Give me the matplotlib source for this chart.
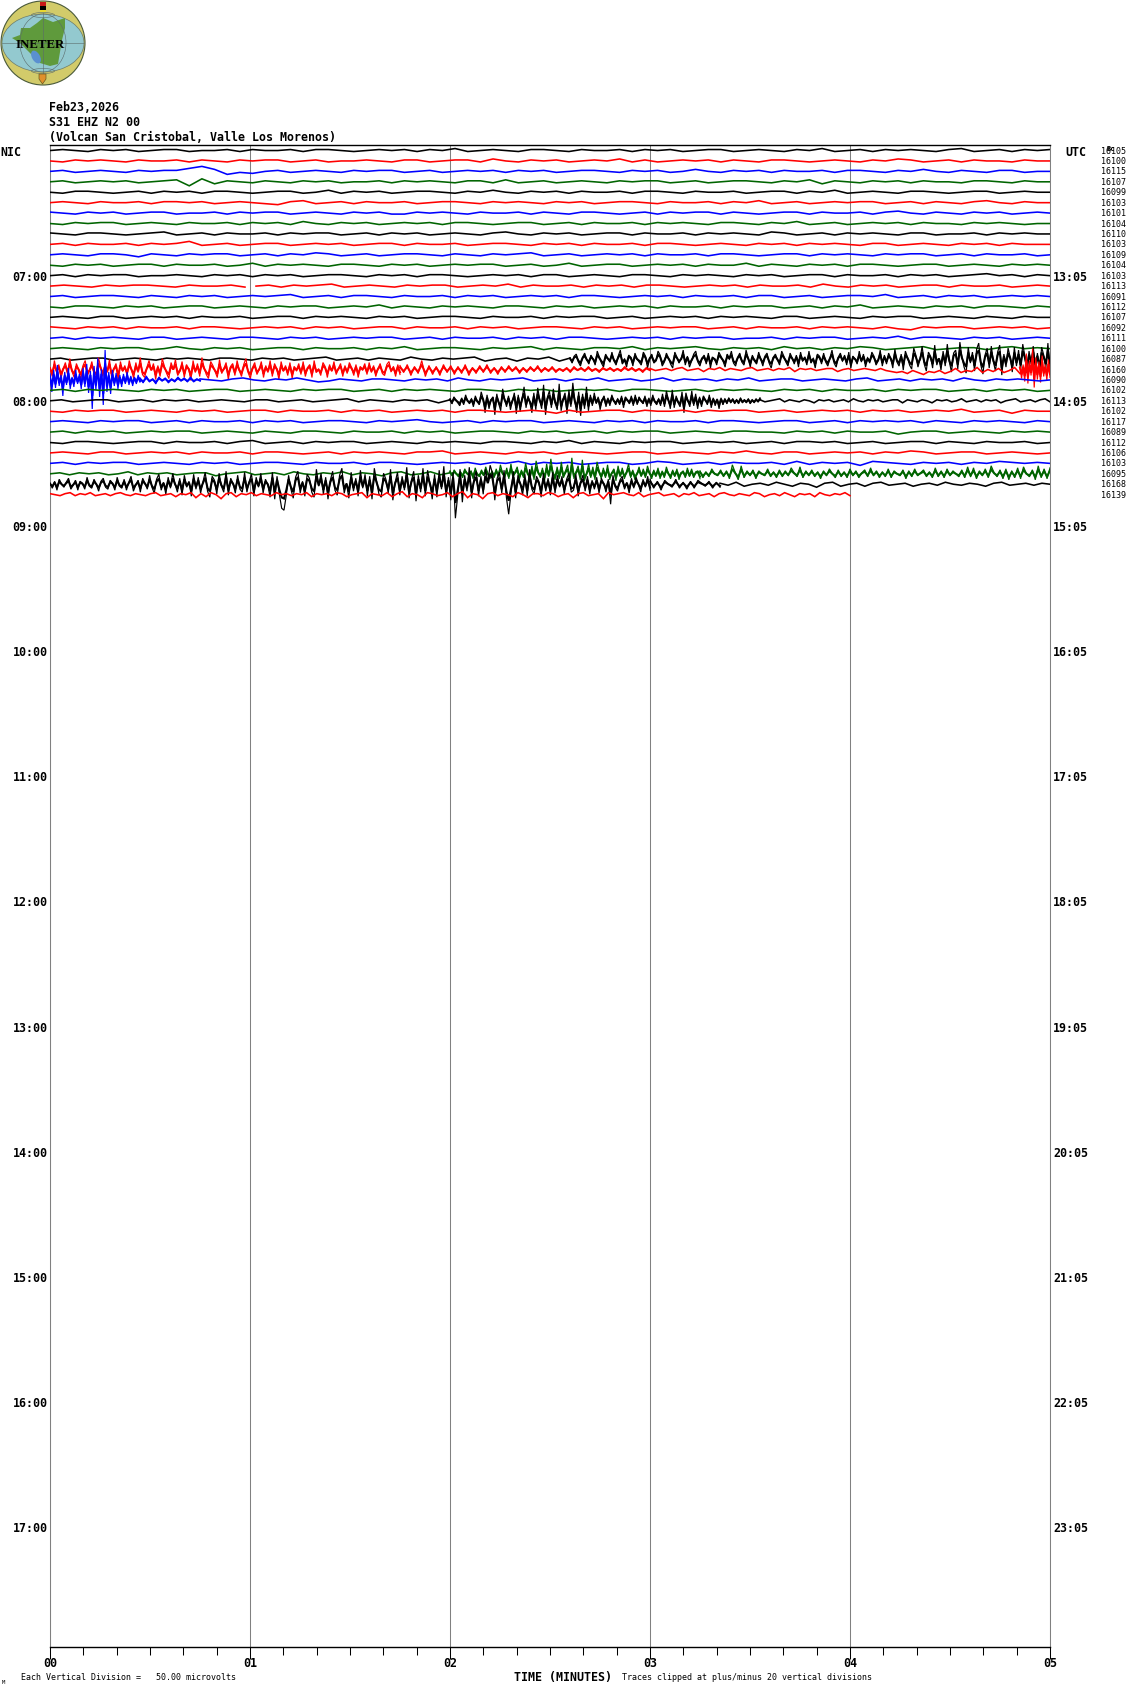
import numpy as np
import matplotlib
matplotlib.use('Agg')
import matplotlib.pyplot as plt
from matplotlib.patches import Circle, Ellipse, Polygon, Rectangle

# right hand column, one per trace line
line_counts = [16105, 16100, 16115, 16107, 16099, 16103, 16101, 16104, 16110, 16103, 16109, 16104,
               16103, 16113, 16091, 16112, 16107, 16092, 16111, 16100, 16087, 16160, 16090, 16102,
               16113, 16102, 16117, 16089, 16112, 16106, 16103, 16095, 16168, 16139]
trace_colors = ['black', '#ff0000', '#0000ff', '#006400']

nic_hours = ['07:00', '08:00', '09:00', '10:00', '11:00', '12:00', '13:00', '14:00', '15:00', '16:00', '17:00']
utc_hours = ['13:05', '14:05', '15:05', '16:05', '17:05', '18:05', '19:05', '20:05', '21:05', '22:05', '23:05']
hour_rows = [12, 24, 36, 48, 60, 72, 84, 96, 108, 120, 132]
minute_labels = ['00', '01', '02', '03', '04', '05']

# trace offsets, in pixels, positive is up
trace_00 = [0, 1, 0, -1, 1, 0, 1, -1, 0, 1, 1, -1, 0, 0, 1, -1, 1, 0, 0, 1, -1, 1, 1, 0, -1, 0, 1, 0, 1, -1, 1, 0, 2, -1, 0, 1, 0, -1, 1, 1,
            0, -1, 1, 0, 0, 1, -1, 1, 0, 1, -1, 0, 1, 1, -1, 0, 1, 0, -1, 1, 0, 2, -1, 0, 1, -1, 1, 0, 1, 0, -1, 1, 2, -1, 0, 1, -1, 1, 0, 1]
trace_01 = [0, -1, 1, 0, 1, 0, -1, 1, 0, 0, 1, -1, 1, 0, -1, 1, 0, 1, 1, -1, 0, 1, -1, 0, 0, 1, 0, -1, 1, 1, -1, 0, 1, 1, -1, 2, 0, -1, 1, 0,
            1, -1, 0, 1, 0, 2, -1, 1, -1, 0, 1, 0, 1, -1, 1, 0, -1, 1, 1, 0, -1, 0, 1, 0, -1, 1, 0, 2, 1, -1, 0, 1, -1, 1, 0, 0, -1, 1, 0, 0]
trace_02 = [0, 1, -1, 0, 1, 0, -1, 1, 0, 1, 1, 3, 5, 2, -3, -1, -2, 0, 1, -1, 0, 1, 0, -1, 1, 0, 1, 1, -1, 0, 1, -1, 0, 1, 0, 1, -1, 1, 0, 1,
            -1, 0, 1, 1, 0, -1, 1, 0, 1, -1, 0, 2, 0, -1, 1, 0, 1, -1, 1, 0, 0, 1, -1, 1, 1, 0, -1, 1, 0, 2, 0, -1, 1, 0, -1, 1, 1, -1, 0, 0]
trace_03 = [0, 1, -1, 0, 1, 0, 1, -1, 0, 1, 2, -4, 3, -2, 1, 0, -1, 1, 0, -1, 1, 0, 1, -1, 0, 0, 1, -1, 1, 0, 1, 0, -1, 1, 1, -1, 2, -1, 0, 1,
            -1, 0, 1, 0, -1, 1, 0, 1, 1, -1, 0, 1, -1, 0, 1, 1, 0, -1, 1, 0, 2, -2, 1, 0, -1, 1, 0, 1, -1, 1, 0, 0, -1, 1, 1, 0, -1, 1, 0, 0]
trace_04 = [0, -1, 1, 1, 0, -1, 0, 1, -1, 1, 0, 1, -1, 1, 1, 0, -1, 0, 1, 1, -1, 0, 2, -1, 1, 0, 1, -1, 0, 1, 1, 0, -1, 1, 0, 2, 0, -1, 1, 0,
            1, -1, 1, 0, 0, 1, -1, 1, 1, 0, -1, 1, 0, 0, 1, -1, 0, 1, 1, -1, 1, 0, 2, -1, 0, 1, 0, -1, 1, 1, 0, -1, 0, 1, 1, -1, 0, 1, 0, 0]
trace_05 = [0, 1, 0, -1, 1, 0, 0, 1, -1, 1, 1, 0, 1, -1, 0, 1, 0, -1, -2, 1, 2, -1, 0, 1, -1, 1, 0, 0, 1, -1, 0, 1, 1, 0, -1, 1, 0, 1, 0, -1,
            1, 0, 1, -1, 0, 1, 1, 0, -1, 1, 0, 0, 1, -1, 1, 0, 2, -1, 0, 1, -1, 0, 1, 0, 1, 1, -1, 0, 1, -1, 1, 0, -1, 1, 2, 0, -1, 1, 0, 0]
trace_06 = [1, 0, -1, 1, 0, 1, -1, 0, 1, 1, -1, 0, 0, 1, -1, 1, 0, 1, 1, -1, 0, 1, 0, -1, 1, 0, 1, -1, -1, 1, 0, 1, 0, -1, 1, 0, 0, 1, -1, 1,
            0, -1, 1, 1, 0, -1, 0, 1, -1, 1, 0, 1, 1, -1, 1, 0, -1, 0, 1, 1, -1, 1, 0, 0, 1, -1, 1, 2, 0, -1, 1, 0, -1, 1, 0, 1, -1, 0, 1, 0]
trace_07 = [0, -1, 1, 0, 1, 1, -1, 0, 1, 0, -1, 1, 0, 0, 1, -1, 1, 0, 1, -1, 2, 0, -1, 1, 0, 1, -1, 0, 1, 0, 1, -1, 1, 1, 0, -1, 0, 1, 1, -1,
            0, 1, -1, 1, 0, 0, 1, -1, 1, 0, 1, 0, -1, 1, 1, 0, -1, 1, 0, 2, -1, 0, 1, -1, 0, 1, 0, 1, -1, 1, 0, 0, -1, 1, 0, 1, 0, -1, 0, 0]
trace_08 = [1, 0, -1, 1, 1, 0, -1, 0, 1, 2, -1, 0, 1, -1, 1, 0, 0, 1, -1, 1, 0, 1, 1, -1, 0, 1, -1, 1, 0, 1, -1, 0, 1, 0, -1, 1, 2, 0, -1, 1,
            0, 1, -1, 0, 1, 1, -1, 1, 0, 0, 1, -1, 1, 0, 1, 0, -1, 2, 1, -1, 0, 1, -1, 1, 0, 1, 0, -1, 1, 1, -1, 0, 0, 1, -1, 1, 0, 1, 0, 0]
trace_09 = [0, 1, -1, 1, 0, 0, 1, -1, 1, 0, 1, 3, -1, 0, 1, -1, 0, 1, 1, -1, 0, 1, 0, 1, -1, 0, 1, 1, -1, 1, 0, 0, 1, -1, 0, 1, 1, 0, -1, 1,
            0, 1, -1, 1, 0, 0, 1, -1, 1, 1, 0, -1, 0, 1, 0, -1, 1, 0, 1, -1, 1, 0, 1, 0, -1, 1, 1, -1, 0, 1, 0, -1, 1, 0, 1, -1, 1, 0, 0, 0]
trace_10 = [0, 1, 0, -1, 1, 1, 0, -2, 1, 0, -1, 1, 0, 1, 1, -1, 0, 1, -1, 1, 0, 2, 1, -1, 0, 1, -1, 0, 1, 1, 0, -1, 1, 0, -1, 1, 0, 1, 2, -1,
            0, 1, -1, 0, 1, 0, 1, -1, 1, 0, 0, 1, -1, 1, 1, 0, -1, 0, 1, 1, -1, 1, 0, 1, 0, -1, 1, 0, 1, 1, -1, 0, 1, -1, 1, 0, 0, 1, -1, 0]
trace_11 = [0, -1, 1, 0, 1, -1, 0, 1, 1, -1, 1, 0, 0, 1, -1, 0, 2, -1, 1, 0, 1, 0, -1, 1, 1, 0, -1, 1, 0, 1, -1, 0, 1, 0, 1, 1, -1, 0, 1, -1,
            0, 2, -1, 0, 1, 1, -1, 0, 1, 0, 1, -1, 1, 0, 0, 2, -1, 1, 0, -1, 1, 0, 1, -1, 1, 1, 0, -1, 0, 1, 1, -1, 0, 1, 0, -1, 1, 0, 1, 0]
trace_12 = [0, 1, -1, 1, 0, 1, 1, -1, 0, 0, 1, 0, -1, 1, 0, 1, -1, 1, 0, 1, -1, 0, 1, 1, 0, -1, 1, 0, 1, -1, 1, 1, 0, -1, 0, 1, 0, 1, -1, 1,
            1, -1, 0, 1, 0, -1, 1, 1, 0, -1, 1, 0, 1, 0, -1, 1, 0, 1, -1, 0, 1, 1, -1, 1, 0, 0, 1, -1, 1, 0, 1, -1, 0, 1, 2, 0, 1, -1, 1, 0]
trace_13a = [0, 1, 0, -1, 1, 0, 1, 1, 0, -1, 1, 0, 0, 1, -1]
trace_13b = [0, 1, -1, 1, 0, 1, 2, -1, 0, 1, 0, -1, 1, 0, 1, 1, -1, 0, 1, 0, 2, -1, 1, 0, 0, 1, -1, 1, 0, 1, -1, 1, 1, 0, -1, 0, 1, 0, 1, -1,
             1, 0, 0, 1, -1, 2, 0, -1, 1, 0, 1, -1, 0, 1, 1, -1, 1, 0, 0, 1, -1, 0, 1, 0]
trace_14 = [0, 1, -1, 0, 1, 1, 0, -1, 1, 0, -1, 1, 0, 1, -1, 0, 1, 0, 1, 2, -1, 0, 1, -1, 1, 1, 0, -1, 1, 0, 0, 1, -1, 1, 0, 1, -1, 0, 1, 0,
            1, -1, 1, 1, 0, -1, 0, 1, 0, 1, -1, 1, 0, 0, 1, -1, 1, 1, -1, 0, 1, -1, 0, 1, 1, 0, 2, -1, 0, 1, -1, 1, 0, 1, -1, 0, 1, 0, 1, 0]
trace_15 = [0, -1, 1, 1, 0, -1, 1, 0, 1, -1, 0, 1, 1, -1, 0, 1, 0, -1, 1, 0, 1, 1, -1, 0, 1, 0, 2, -1, 1, 0, -1, 1, 0, 1, 0, -1, 1, 1, 0, -1,
            1, 0, 1, -1, 0, 1, 0, 1, -1, 1, 0, 0, 1, -1, 1, 0, 1, 1, -1, 0, 1, -1, 1, 0, 2, -1, 0, 1, 0, -1, 1, 0, 1, -1, 1, 1, 0, -1, 1, 0]
trace_16 = [0, 1, 0, -1, 1, 1, -1, 0, 1, 0, 1, -1, 1, 0, 0, 1, -1, 0, 1, 1, -1, 1, 0, 1, 0, -1, 1, 0, 1, -1, 0, 1, 1, 0, -1, 1, 0, 0, 1, -1,
            1, 0, 1, 1, -1, 0, 1, -1, 0, 1, 0, 1, -1, 1, 0, 1, 0, -1, 1, 1, -1, 0, 1, 0, -1, 1, 0, 1, 1, -1, 0, 1, 0, -1, 1, 0, -1, 1, 0, 0]
trace_17 = [1, 0, -1, 1, 0, 1, -1, 1, 0, 0, 1, -1, 1, 1, 0, -1, 0, 1, 0, 1, -1, 1, 0, 1, -1, 0, 1, 1, -1, 1, 0, 0, 1, -1, 1, 0, 1, -1, 0, 1,
            1, 0, -1, 1, 0, 1, -1, 0, 1, 0, 1, 1, -1, 0, 1, -1, 1, 0, 0, 1, -1, 1, 0, 1, 0, -1, 1, -1, -2, 1, 0, 1, 1, -1, 0, 1, 0, 1, -1, 0]
trace_18 = [0, 1, -1, 1, 0, 1, 0, -1, 1, 1, -1, 0, 1, 0, -1, 1, 1, 0, -1, 1, 0, 1, -1, 0, 1, 0, 1, 1, -1, 0, 1, -1, 1, 0, 0, 1, -1, 1, 0, 1,
            -1, 1, 1, 0, -1, 0, 1, 0, 1, -1, 1, 0, 1, 1, -1, 0, 0, 1, -1, 1, 0, 1, 1, -1, 0, 1, 0, 2, -1, 1, 1, 0, -1, 1, 0, 1, -1, 0, 1, 0]
trace_19 = [0, 1, 0, -1, 1, 0, 1, 1, -1, 0, 2, 0, -1, 1, 0, 1, -1, 0, 1, 1, -1, 1, 0, 0, 1, -1, 1, 0, 2, -1, 0, 1, 1, 0, -1, 1, 0, 1, 2, -1,
            1, 0, -1, 1, 1, 0, 2, -1, 1, 0, 1, 2, 0, -1, 1, 0, 1, -1, 2, 0, 1, -1, 1, 0, 2, 1, -1, 0, 1, 2, -1, 0, 1, 1, -1, 1, 2, 0, 1, 0]
trace_20_calm = [0, 1, -1, 0, 1, 1, -1, 0, 1, 0, -1, 1, 0, 1, 0, -1, 1, 1, 0, -1, 1, 0, 1, -1, 0, 1, 2, -1, 0, 1, -1, 1, 0, -1, 2, 0, -1, 1, 0, 1,
                 2, -2, 0, 1, -2, 1, 0, 2, -2, 1]
trace_20_loud = [1, -4, 3, 5, -3, -7, 2, 6, -1, -5, 4, 0, -6, 8, 2, -4, -8, 5, 1, -3, 7, -2, -6, 3, 9, -5, -1, -8, 4, 2, -7, 6, 0, -3, -6, 7, 3, -9, 1, 5,
                 -4, -2, 8, 4, -7, -3, 6, 1, -5, -9, 7, 2, -4, 0, 9, -6, 3, -8, -2, 5, 8, -3, -7, 1, 4, -5, 6, -9, 2, 0, -6, 7, 3, -2, -8, 5, 1, 8, -4, -7,
                 2, 6, -3, -6, 9, 1, -8, 4, -2, -5, 7, 0, -7, 3, 6, -4, -9, 2, 5, -1, -6, 8, 3, -3, -7, 6, 1, -5, 4, -8, 7, -2, 2, -6, 8, -4, 0, -9, 5, 3,
                 -5, 6, -3, -7, 1, 9, -4, -8, 2, 6, -2, 4, -6, 7, -9, 3, 0, -5, 8, -3, 5, -8, 1, -4, 7, 3, -6, -2, 9, -7, 4, -5, 6, 1, -9, 10, -3, -7, 5, -11,
                 8, 2, -6, -10, 11, 4, -8, 0, 13, -5, -12, 7, 3, -9, 14, -6, 1, -11, 8, -7, 15, -3, -13, 6, 9, -10, 17, 2, -8, -14, 12, -4, 7, -12, 10, 16, -6, -15, 4, 11,
                 -9, 13, -3, -12, 7, 14, -16, 5, -8, 11, 2, -13, 12, -7, 9, -11, 15, 3, -14, 8, -5, 13, -10, 6, -15, 12, 4, -9, 16, -12]
trace_21_loud = [2, -7, 9, -3, 5, -9, 1, 7, -5, 11, -2, -8, 6, 0, -10, 4, 9, -6, -1, 8, -4, -9, 12, 3, -7, 5, -3, 10, -8, 1, 6, -11, 8, -2, 4, -6, 9, 0, -9, 7,
                 -3, 12, -5, -8, 2, 9, -1, 6, -10, 4, -7, 11, 3, -4, -9, 7, 0, 10, -6, -2, 8, -8, 5, 1, -11, 9, -3, 6, -7, 12, 2, -5, -9, 8, 4, -2, -8, 10, -4, 1,
                 7, -10, 3, 6, -6, 9, -1, -7, 5, 11, -3, -9, 2, 7, -5, 0, 8, -8, 4, -3, 9, -7, 6, 1, -10, 8, -2, 4, -6, 7, -9, 3, -1, 6, -5, 8, -7, 2, 5, -8,
                 9, -3, 0, -6, 7, 3, -8, 5, -2, 8, -5, 1, 6, -7, 4, -4, 7, 2, -6, 5, -8, 3, 0, 6, -5, 7, -3, 4, -7, 1, 6, -4, -6, 5, 8, -2, 3, -7, 5, -5]
trace_21_mid = [4, -3, 5, -6, 3, -4, 9, -7, 4, -5, 3, -6, 5, -3, 4, -5, 3, -4, 5, -6, 2, -4, 4, -3, 5, -4, 2, -5, 3, -3, 4, -2, 3, -4, 2, -3, 3, -2, 4, -3,
                2, -2, 3, -3, 1, -2, 2, -3, 3, -1, 2, -2, 3, -2, 1, -3, 2, -1, 2, -2, 1, -2, 3, -1, 2, -2, 1, -3, 2, -1]
trace_21_calm = [1, -1, 0, 1, -1, 1, 2, -1, 0, 1, -2, 1, 0, 2, -1, 1, 0, -1, 1, 2, -1, 0, 1, -1, 1, 0, 2, -2, 1, 0, 1, -1, 0, 1, 1, -2, 0, 1, -1, 0,
                 1, 0, -1, 1, -1, -2, -3, -2, -4, -1, -3, -5, -2, -3, -1, -4, -2, 1, -3, -1, -2, 2, -3, 0, -2, 1, -3, -1, 2, -4]
trace_21_burst = [3, -9, 5, -12, 16, -14, 9, -6, 21, -18, 12, -10, 8, -13, 14, -7, 5, -11, 10, -8]
trace_22_loud = [6, -12, 10, -8, 15, -6, 5, -16, 8, -5, 12, -9, 3, -7, 10, -4, 6, -9, 12, -7, 16, -13, 9, -29, 14, -10, 22, -17, 11, -25, 30, -12, 8, -14, 10, -6, 7, -9, 5, -7,
                 6, -4, 8, -5, 4, -6, 3, -4, 5, -2]
trace_22_mid = [2, -3, 4, -2, 1, -4, 3, -1, 2, -3, 1, -2, 3, -1, 2, -2, 3, -2, 1, -1]
trace_22_calm = [1, 0, -1, 1, 2, 0, -1, 1, 0, 2, 0, -2, -1, 1, 0, -1, 1, 1, 0, -1, 1, 0, 1, -1, 2, 0, -1, 1, 0, 1, 2, -1, 0, 1, -1, 1, 0, 2, -1, 0,
                 1, -1, 0, 2, -1, 1, 0, 1, -1, 1, 0, 2, -1, 0, 1, 1, -1, 0, 1, 0, -1, 1, 2, -1, 0, 1, -1, 1, 0, 1, -1, 2, 0, -1, 1, 0, 1, 0, -1, 0]
trace_23 = [0, 1, -1, 1, 0, 1, 0, -1, 1, 0, 1, -1, 0, 1, 1, -1, 0, 1, 0, -1, 1, 0, 1, 1, -1, 0, 1, -1, 1, 0, 1, 0, -1, 1, 1, 0, -1, 1, 0, 1,
            -1, 0, 1, 0, 1, -1, 1, 1, 0, -1, 0, 1, -1, 1, 0, 1, 0, -1, 1, 0, 1, -1, 1, 0, 0, 1, -1, 1, 0, 1, 1, -1, 0, 1, -1, 1, 0, 1, -1, 0]
trace_24_left = [0, 1, -1, 0, 1, 1, -1, 0, 1, -1, 1, 0, 1, -1, 0, 1, 0, -1, 1, 1, -1, 0, 1, -1, 0, 1, 2, -1, 1, 0, -1, 1, 0, 1, -2, 1]
trace_24_loud = [2, -3, 4, 1, -2, -5, 3, -4, 6, 0, -3, 2, -6, 5, -1, -4, 9, 2, -12, 6, -8, 1, 4, -14, 7, -3, -10, 12, 2, -6, 5, -9, 0, 8, -13, 6, -11, 3, 14, -7,
                 5, -2, -12, 8, -9, 13, 1, -8, 16, -14, 4, 10, -7, 12, -3, -9, 17, -10, 2, 8, -13, 11, -6, 18, 0, -12, 9, -15, 7, -8, 14, -10, 6, -5, 8, -3, 4, -9, 1, 5,
                 -6, 3, -5, 6, 0, -4, 2, -4, 5, -7, 4, 1, -3, 5, -5, 6, -4, 4, 0, -3, 5, -6, 3, -5, 6, -1, -4, 2, -5, 7, -6, 10, 1, -8, 11, -7, 5, -2, -6, 9,
                 -12, 8, 0, -6, 10, -5, 7, -8, 4, -6, 5, 1, -4, 6, -7, 3, -5, 2, -8, 3, -4, 2, -3, 3, -2, 2, -3, 1, -3, 3, -2, 1, -2, 2, -3, 1, -2, 2, -1, 3]
trace_24_right = [1, -1, 0, 1, 2, -1, 1, 0, -1, 1, 0, -2, 1, 0, 1, -1, 0, 1, -1, 2, 0, -1, 1, 0, 1, -1, 0, 1, 1, -2, 1, 0, -1, 1, 0, -2, 1, 0, 1, -1,
                  0, 2, -1, 0, 1, -1, 1, 0, 1, -2, 0, 1, 2, -1, 0, 1, -1, 1, 2, -1]
trace_25 = [0, -1, 1, 0, 1, 1, -1, 0, 1, 0, -1, 1, 0, 1, -1, 0, 1, 1, -1, 1, 0, 0, 1, -1, 1, 0, 1, -1, 0, 1, 0, 1, -1, 1, 1, 0, -1, 0, 1, 0,
            -2, 1, -1, 0, 1, 1, -1, 1, 0, 0, 1, -1, 1, 0, 1, 1, -1, 0, 1, -1, 0, 1, 0, 1, -1, 1, 0, 1, -1, 0, 1, 0, 2, -1, 0, 1, -2, 1, 0, 0]
trace_26 = [0, 1, 0, -1, 1, 0, 1, 1, -1, 0, 1, -1, 1, 0, 0, 1, -1, 1, 0, 1, -1, 0, 1, 1, 0, -1, 1, 0, 1, 2, 0, -1, 0, 1, -1, 1, 0, 1, 1, -1,
            0, 1, 0, -1, 1, 0, 1, -1, 1, 0, 0, 1, -1, 1, 1, 0, -1, 0, 1, 1, -1, 0, 1, -1, 1, 0, 1, 0, 1, -1, 1, 0, -1, 1, 0, 1, 0, -1, 1, 0]
trace_27 = [0, 1, -1, 1, 0, 1, -1, 0, 1, 0, 1, 1, -1, 0, 1, 0, -1, 1, 0, -1, 1, 1, 0, -1, 1, 0, 0, 1, -1, 1, 0, 1, -1, 0, 1, 1, 0, -1, 1, 0,
            1, -1, 0, 1, -1, 1, 0, 1, 1, -1, 0, 1, 0, -1, 1, 1, 0, 0, -1, 1, 0, 1, -1, 1, 0, 0, 1, -2, 0, 1, 1, -1, 0, 1, 0, -1, 1, 0, 1, 0]
trace_28 = [0, -1, 1, 1, 0, -1, 0, 1, 1, -1, 1, 0, 0, 1, -1, 1, 2, -1, 0, 1, -1, 1, 0, 1, 1, -1, 0, 1, 0, -1, 1, 0, 1, 0, -1, 1, 1, 0, -1, 1,
            0, 2, -1, 1, 0, -1, 1, 0, 1, 1, -1, 0, 1, 0, 1, -1, 0, 1, -1, 1, 1, 0, 1, -1, 0, 1, -1, 0, 1, 1, -1, 1, 0, -1, 1, 0, 0, 1, -1, 0]
trace_29 = [0, 1, 0, -1, 1, 1, -1, 0, 1, 0, 1, -1, 1, 0, 0, 1, -1, 1, 1, 0, -1, 0, 1, -1, 1, 0, 1, 0, -1, 1, 1, 2, -1, 0, 1, 0, -1, 1, 0, 1,
            -1, 1, 1, 0, -1, 0, 1, 1, -1, 0, 1, 0, -1, 1, 0, 2, 0, -1, 1, 1, -1, 0, 1, 0, 1, -1, 1, 0, 2, 1, -1, 0, 1, 1, -1, 0, 1, 0, -1, 0]
trace_30 = [0, 1, -1, 1, 0, 1, 1, -1, 0, 1, 0, -1, 1, 0, 1, -1, 0, 1, 1, 0, -1, 1, 0, 0, 1, -1, 1, 1, 0, -1, 0, 1, 0, 1, -1, 1, 0, 2, -1, 1,
            0, 1, -1, 0, 1, 1, -1, 0, 2, 1, -1, 0, 1, -1, 1, 0, 0, 1, -1, 2, -1, 1, 0, 1, -2, 2, 1, 0, -1, 1, 0, 1, -1, 1, 0, 2, 1, 0, 1, 0]
trace_31_calm = [0, 1, -1, 1, 0, 1, -1, 0, 2, -1, 1, 0, 1, -1, 0, 1, 1, -2, 0, 1, 2, -1, 0, 1, -1, 2, 0, -1, 1, 0, 2, -1, 1, 0, -2, 1, 2, -1, 0, 2, -1, 1]
trace_31_loud = [3, -2, 4, 0, -3, 2, -4, 5, 1, -2, 3, -5, 6, -1, -3, 4, -2, 7, 0, -5, 3, -4, 5, -3, 9, 1, -4, 6, -5, 10, -3, 2, 7, -6, 4, -4, 11, 0, -5, 8,
                 -6, 13, 2, -4, 6, -7, 10, -3, 15, 1, -6, 7, -5, 12, -4, 3, 9, -8, 16, -5, 2, 8, -6, 14, -7, 0, 10, -4, 7, -6, 12, 3, -5, 6, -4, 9, -6, 1, 5, -7,
                 8, -3, 6, -5, 2, 10, -4, 4, -6, 0, 7, -3, 5, -4, 8, 1, -5, 4, -3, 6, -5, 3, -4, 7, 0, -5, 4, -3, 5, -6, 1, 3, -4, 6, -3, 5, -4, 2, 3, -5]
trace_31_right = [3, -4, 2, -3, 5, 0, -2, 4, -3, 3, -5, 9, 1, -6, 8, -4, 3, -2, 4, -5, 3, 0, -2, 5, -3, 2, -4, 4, -3, 3, -2, 6, 1, -3, 7, -4, 3, -2, 4, -3,
                  2, -5, 3, -2, 5, 0, -4, 4, -3, 2, -4, 5, -2, 3, -4, 1, 4, -3, 6, -2, 3, -4, 2, -3, 5, -4, 3, 0, -2, 4, -5, 3, -3, 5, -2, 1, 4, -3, 2, -4,
                  6, -3, 3, -4, 5, -2, 3, 0, -3, 4, -4, 7, -3, 6, -5, 3, -2, 5, -4, 8, 1, -3, 4, -5, 5, -6, 3, -4, 6, -5, 7, 0, -3, 4, -6, 8, -4, 5, -5, 6]
# 40 values a row, about 89 px of the trace
trace_32_loud = [1, -4, 3, -6, 5, 0, -3, 2, 6, -5, -1, 4, -6, 3, 1, -5, 7, -2, -4, 5, 0, -7, 3, 6, -3, -5, 4, 1, -6, 7, -2, -4, 5, -6, 2, 8, -7, -1, 4, -8,
                 6, 1, -5, 9, -3, -9, 5, 10, -6, 2, -10, 7, -4, 11, 0, -8, 6, -11, 9, -3, 3, -12, 10, -5, 7, -9, 2, 12, -7, -13, 8, 4, -10, 11, -2, -8, 13, -11, 6, 1,
                 -9, 9, -5, -8, 12, -8, 3, 10, -12, 7, -3, 11, -9, 5, 0, -13, 12, -15, 8, -10, -24, -26, -11, 9, -5, -14, 7, 13, -9, 3, -12, 10, 6, -8, -13, 15, -2, 11, -10, 7,
                 -15, 4, 13, -6, -11, 9, 16, -9, 1, -14, 12, -7, 6, -12, 14, -4, 10, -12, 8, -15, 16, 3, -10, -13, 11, 5, -9, 15, -16, 2, 12, -11, 8, -6, 17, -14, 4, 13, -17, 9,
                 -8, 16, -12, 14, 1, -15, 10, -13, 14, -5, 18, -13, 7, -16, 12, -34, -11, 15, -18, 9, -7, 17, -14, 5, 13, -12, 8, -10, 15, 2, 19, 11, -16, 6, 12, -9, 14, -13, -30, -8,
                 13, -14, 9, 1, -11, 10, -12, 15, -5, -10, 8, 3, -13, 11, -7, 6, -11, 12, -9, 9, -3, 8, -10, 5, 11, -8, -6, 10, -12, 2, 9, -7, 8, -10, 4, -5, 7, -9, 6, 1,
                 -8, 5, -20, 9, -3, -7, 4, 8, -5, 2, -9, 6, -4, 7, 0, -8, 5, -3, 8, -6]
trace_32_mid = [5, -4, 3, -6, 4, 0, -3, 5, -4, 2, -5, 3, -4, 4, 1, -2, 3, -4, 2, -3]
trace_32_calm = [1, -1, 2, -2, 0, 1, -1, 2, 0, -2, 1, 0, -3, 1, 2, -2, 0, 1, -2, 1, 2, -1, 0, 1, -2, 0, 1, -1, 2, 0, -1, 1, 0, -2, 1, 2, -1, 0, 1, -1, 1, 0]
trace_33a = [1, 0, -1, 1, 2, -1, 1, 0, 2, -1, 0, 1, -1, 1, 2, 0, -1, 1, 0, -1, 1, 2, -1, 0, 1, -2, 1, 0, 2, -3, 1, -2, 2, 0, -4, 1, 2, -2, 1, 0,
             2, -1, 1, 0, -1, 2, 0, 1, -1, 1, 0, 2, -2, 1, 0, 1, -1, 2, 1, -2, 0, 1, 2, -3, 1, 0, -1, 2, -2, 1, 3, -2, 1, 0, -3, 2, 1, -1, 0, 2,
             -2, 1, 3, -3, 1, 0, -4, 1, 2, -1, 1, 0, -2, 2, 0, -3, 1, 1, -1, 2, 1, -2, 0, 1, -3, 1, 2, -1, 0, 1, -4, 2, 0, 1, 2, 0, -1, 2, -2, 0,
             1, 2, -1, 0, 1, -2, 1, 0, 2, -1, 0, 1, -2, 1, 2, 0, -1, 1, 0, -1, 2, 1, -2, 0, 1, -1, 2, 0, -2, 1, 0, 1, -2, 2, 0, -1, 1, 0, 2, -1]

quiet_traces = {0: trace_00, 1: trace_01, 2: trace_02, 3: trace_03, 4: trace_04, 5: trace_05, 6: trace_06,
                7: trace_07, 8: trace_08, 9: trace_09, 10: trace_10, 11: trace_11, 12: trace_12, 14: trace_14,
                15: trace_15, 16: trace_16, 17: trace_17, 18: trace_18, 19: trace_19, 23: trace_23, 25: trace_25,
                26: trace_26, 27: trace_27, 28: trace_28, 29: trace_29, 30: trace_30}

# (row, start minute, end minute, offsets)
pieces = [(13, 0.0, 0.975, trace_13a), (13, 1.03, 5.0, trace_13b),
          (20, 0.0, 2.6, trace_20_calm), (20, 2.6, 5.0, trace_20_loud),
          (21, 0.0, 1.75, trace_21_loud), (21, 1.75, 3.0, trace_21_mid), (21, 3.0, 4.85, trace_21_calm), (21, 4.85, 5.0, trace_21_burst),
          (22, 0.0, 0.45, trace_22_loud), (22, 0.45, 0.75, trace_22_mid), (22, 0.75, 5.0, trace_22_calm),
          (24, 0.0, 2.0, trace_24_left), (24, 2.0, 3.55, trace_24_loud), (24, 3.55, 5.0, trace_24_right),
          (31, 0.0, 2.0, trace_31_calm), (31, 2.0, 3.25, trace_31_loud), (31, 3.25, 5.0, trace_31_right),
          (32, 0.0, 3.0, trace_32_loud), (32, 3.0, 3.35, trace_32_mid), (32, 3.35, 5.0, trace_32_calm),
          (33, 0.0, 4.0, trace_33a)]

PX_PER_ROW = 10.43

fig = plt.figure(figsize=(11.3, 16.89), dpi=100)
plt.rcParams['font.family'] = ['DejaVu Sans Mono']

# plot box spans x 50-1050 and y 145-1647 in pixels
ax = fig.add_axes([50 / 1130, 1 - 1647 / 1689, 1000 / 1130, (1647 - 145) / 1689])
ax.set_xlim(0, 5)
ax.set_ylim(143.5, -0.53)


def draw_piece(row, start, end, values):
    x = np.linspace(start, end, len(values))
    offs = np.array(values) / PX_PER_ROW
    color = trace_colors[row % 4]
    px_per_sample = (end - start) * 200 / len(values)
    if px_per_sample < 4:
        # noisy stretch: thin spikes round a dense inner band
        ax.plot(x, row - offs, color=color, lw=0.85, solid_joinstyle='miter', zorder=3)
        ax.plot(x, row - offs * 0.55, color=color, lw=1.5, solid_joinstyle='miter', zorder=3)
    else:
        ax.plot(x, row - offs, color=color, lw=1.15, solid_joinstyle='miter', zorder=3)


rows = dict((r, [(r, 0.0, 5.0, v)]) for r, v in quiet_traces.items())
for p in pieces:
    rows.setdefault(p[0], []).append(p)
for r in sorted(rows):
    for p in rows[r]:
        draw_piece(*p)

for minute in range(6):
    ax.axvline(minute, color='#808080', lw=0.75, zorder=1)
for side in ['left', 'right']:
    ax.spines[side].set_color('#808080')
    ax.spines[side].set_linewidth(0.75)
for side in ['top', 'bottom']:
    ax.spines[side].set_linewidth(1.0)

ax.set_xticks(range(6))
ax.set_xticklabels(minute_labels, fontsize=8.4, fontweight='bold', family='DejaVu Sans Mono')
ax.set_xticks(np.arange(0, 5.01, 1 / 6), minor=True)
ax.tick_params(axis='x', which='major', length=8.6, width=0.75, pad=-1.5)
ax.tick_params(axis='x', which='minor', length=5.8, width=0.75)
ax.set_yticks([])

for row, left, right in zip(hour_rows, nic_hours, utc_hours):
    ax.text(-0.012, row + 0.15, left, ha='right', va='center', fontsize=8.4, fontweight='bold')
    ax.text(5.015, row + 0.15, right, ha='left', va='center', fontsize=8.4, fontweight='bold')
for row, count in enumerate(line_counts):
    ax.text(5.255, row + 0.05, str(count), ha='left', va='center', fontsize=6)

# page level text and the logo, in pixels
page = fig.add_axes([0, 0, 1, 1], facecolor='none')
page.set_xlim(0, 1130)
page.set_ylim(1689, 0)
page.axis('off')

page.text(49, 107, 'Feb23,2026', va='center', fontsize=8.4, fontweight='bold')
page.text(49, 122, 'S31 EHZ N2 00', va='center', fontsize=8.4, fontweight='bold')
page.text(49, 137, '(Volcan San Cristobal, Valle Los Morenos)', va='center', fontsize=8.4, fontweight='bold')
page.text(0, 152, 'NIC', va='center', fontsize=8.4, fontweight='bold')
page.text(1065, 152, 'UTC', va='center', fontsize=8.4, fontweight='bold')
page.text(1107, 148.5, 'Bc', va='center', fontsize=5, fontweight='bold')
page.text(21, 1677, 'Each Vertical Division =   50.00 microvolts', va='center', fontsize=6)
page.text(514, 1677, 'TIME (MINUTES)', va='center', fontsize=8.4, fontweight='bold')
page.text(622, 1677, 'Traces clipped at plus/minus 20 vertical divisions', va='center', fontsize=6)
page.text(2, 1682, 'M', va='center', fontsize=4)

page.add_patch(Circle((43, 43), 42, fc='#d2cb6a', ec='#4a5a3a', lw=0.8))
page.add_patch(Ellipse((43, 43), 82, 58, fc='#93c9cf', ec='#6b7b6b', lw=0.5))
land = [(12, 38), (20, 35), (21, 28), (30, 28), (37, 23), (43, 18), (53, 22), (65, 18), (65, 28), (62, 40),
        (60, 52), (58, 64), (50, 66), (40, 63), (30, 53), (20, 43)]
page.add_patch(Polygon(land, fc='#5f9a3c', ec='none', zorder=3))
page.add_patch(Ellipse((36, 57), 8, 14, angle=-30, fc='#5a90d0', ec='none', zorder=4))
page.add_patch(Ellipse((43, 43), 46, 58, fc='none', ec='#5a6a6a', lw=0.4, zorder=5))
page.add_patch(Ellipse((43, 15), 23, 5, fc='none', ec='#5a6a6a', lw=0.4, zorder=5))
page.add_patch(Ellipse((43, 71), 23, 5, fc='none', ec='#5a6a6a', lw=0.4, zorder=5))
page.plot([43, 43], [13, 73], color='#5a6a6a', lw=0.4, zorder=5)
page.plot([2, 84], [43, 43], color='#5a6a6a', lw=0.4, zorder=5)
page.add_patch(Rectangle((39.5, 2), 6, 4, fc='#c81818', ec='none', zorder=6))
page.add_patch(Rectangle((39.5, 6), 6, 4, fc='black', ec='none', zorder=6))
page.add_patch(Rectangle((39.5, 10), 6, 2, fc='#e8d830', ec='none', zorder=6))
page.add_patch(Polygon([(39, 74), (46, 74), (46, 79), (42.5, 84), (39, 79)], fc='#e0902c', ec='#6a5a20', lw=0.5, zorder=6))
page.text(40, 44.5, 'INETER', ha='center', va='center', family='Liberation Serif', fontweight='bold',
          fontsize=9.3, color='black', zorder=7)

fig.savefig('out.png', dpi=100)
